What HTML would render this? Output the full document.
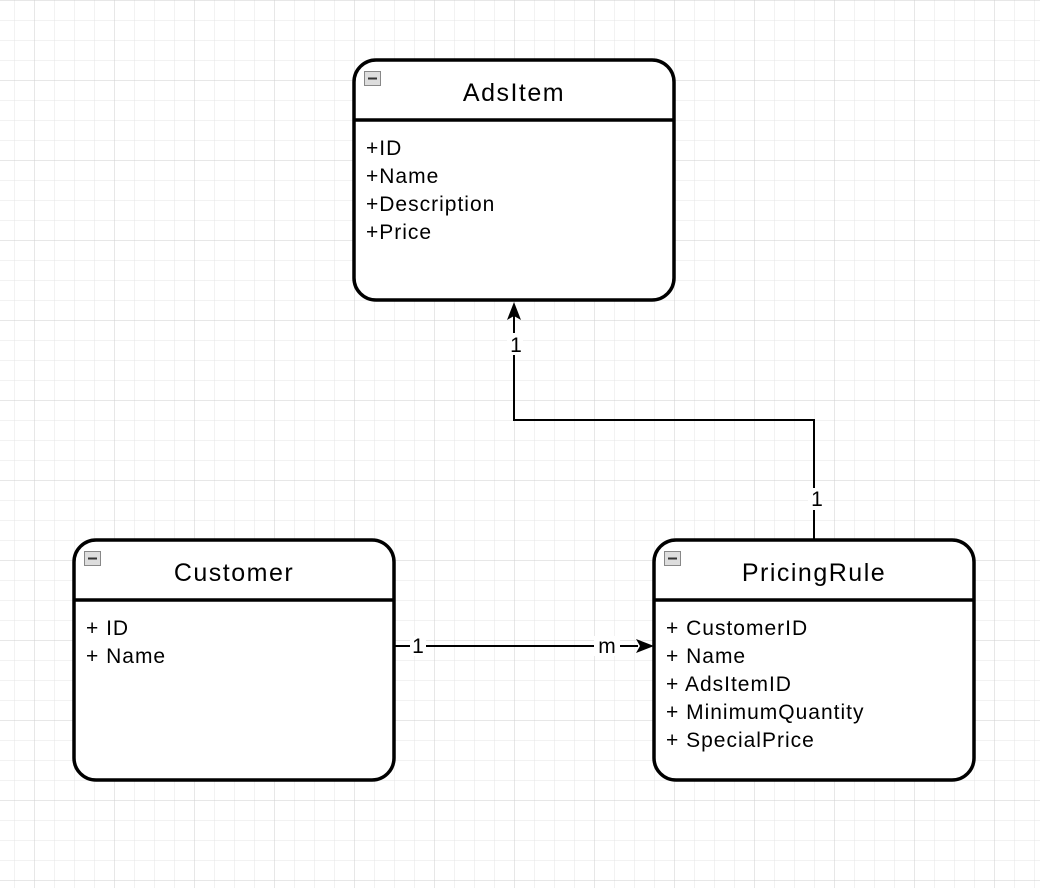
<!DOCTYPE html>
<html><head><style>
body{margin:0;width:1040px;height:888px;overflow:hidden;background:#fff;font-family:"Liberation Sans",Helvetica,Arial,sans-serif;}
</style></head><body>
<svg width="1040" height="888" xmlns="http://www.w3.org/2000/svg">
<defs>
<pattern id="g" width="20" height="20" patternUnits="userSpaceOnUse" x="14" y="0">
<path d="M0 0H20M0 0V20" stroke="#e4e4e4" stroke-width="1" fill="none"/>
</pattern>
<pattern id="G" width="80" height="80" patternUnits="userSpaceOnUse" x="34" y="0">
<path d="M0 0H80M0 0V80" stroke="#cfcfcf" stroke-width="1" fill="none"/>
</pattern>
</defs>
<rect width="1040" height="888" fill="url(#g)"/>
<rect width="1040" height="888" fill="url(#G)"/>
<g stroke="#000" stroke-width="3.5" fill="#fff">
<rect x="354" y="60" width="320" height="240" rx="22"/>
<line x1="354" y1="120" x2="674" y2="120"/>
<rect x="74" y="540" width="320" height="240" rx="22"/>
<line x1="74" y1="600" x2="394" y2="600"/>
<rect x="654" y="540" width="320" height="240" rx="22"/>
<line x1="654" y1="600" x2="974" y2="600"/>
</g>
<g fill="#ddd" stroke="#888" stroke-width="1">
<rect x="364.5" y="71.5" width="16" height="14"/>
<rect x="84.5" y="551.5" width="16" height="14"/>
<rect x="664.5" y="551.5" width="16" height="14"/>
</g>
<g stroke="#333" stroke-width="2">
<line x1="368" y1="78.5" x2="377" y2="78.5"/>
<line x1="88" y1="558.5" x2="97" y2="558.5"/>
<line x1="668" y1="558.5" x2="677" y2="558.5"/>
</g>
<g fill="none" stroke="#000" stroke-width="2">
<polyline points="814,540 814,420 514,420 514,316"/>
<line x1="394" y1="646" x2="638" y2="646"/>
</g>
<polygon points="514,302 507,320 514,316 521,320" fill="#000"/>
<polygon points="654,646 636,639 640,646 636,653" fill="#000"/>
<g font-size="21" fill="#000">
<rect x="507" y="333" width="16" height="22" fill="#fff"/>
<text x="516" y="352" text-anchor="middle">1</text>
<rect x="808" y="488" width="14" height="22" fill="#fff"/>
<text x="817" y="506" text-anchor="middle">1</text>
<rect x="410" y="636" width="16" height="20" fill="#fff"/>
<text x="418" y="653" text-anchor="middle">1</text>
<rect x="594" y="636" width="26" height="20" fill="#fff"/>
<text x="607" y="653" text-anchor="middle">m</text>
</g>
<g font-size="25" text-anchor="middle" letter-spacing="1.5">
<text x="514" y="101">AdsItem</text>
<text x="234" y="581">Customer</text>
<text x="814" y="581">PricingRule</text>
</g>
<g font-size="21" letter-spacing="1">
<text x="366" y="155">+ID</text>
<text x="366" y="183">+Name</text>
<text x="366" y="211">+Description</text>
<text x="366" y="239">+Price</text>
<text x="86" y="635">+ ID</text>
<text x="86" y="663">+ Name</text>
<text x="666" y="635">+ CustomerID</text>
<text x="666" y="663">+ Name</text>
<text x="666" y="691">+ AdsItemID</text>
<text x="666" y="719">+ MinimumQuantity</text>
<text x="666" y="747">+ SpecialPrice</text>
</g>
</svg>
</body></html>
